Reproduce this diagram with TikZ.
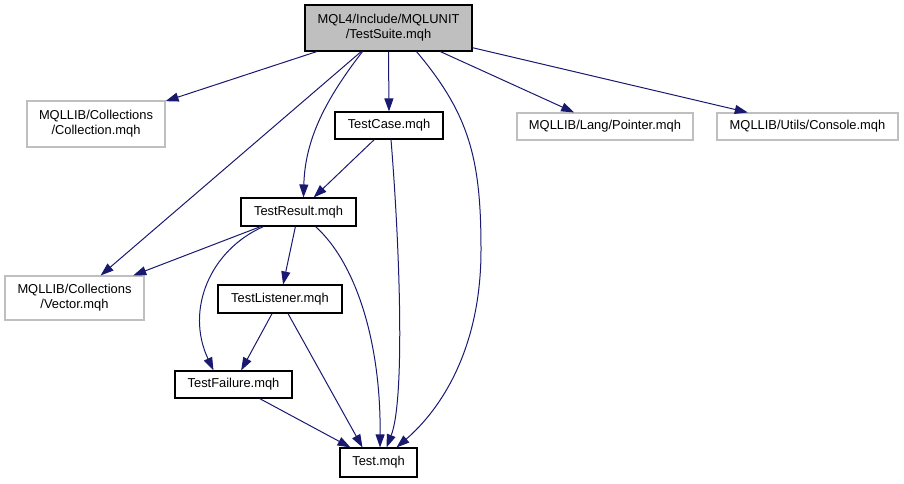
\documentclass[tikz,border=0pt]{standalone}
\usepackage{fontspec}
\setmainfont{Liberation Sans}
\usetikzlibrary{arrows.meta}
\definecolor{edgeblue}{HTML}{191970}
\definecolor{boxgray}{HTML}{BFBFBF}
\tikzset{
  box/.style={draw=black, line width=1.1pt, inner sep=0pt, align=center,
    font=\fontsize{12.9}{15}\selectfont, text=black},
  extbox/.style={box, draw=boxgray},
  rootbox/.style={box, fill=boxgray},
  dep/.style={draw=edgeblue, line width=1pt, -{Triangle[length=13pt,width=9pt]}}
}
\begin{document}
\begin{tikzpicture}[x=1pt,y=-1pt]
\useasboundingbox (0,0) rectangle (904,483);
\node[rootbox, minimum width=167pt, minimum height=46pt] (ts) at (388.5,28) {MQL4/Include/MQLUNIT\\/TestSuite.mqh};
\node[extbox, minimum width=138pt, minimum height=46pt] (coll) at (96,124) {MQLLIB/Collections\\/Collection.mqh};
\node[box, minimum width=108pt, minimum height=27pt] (tc) at (389,125.5) {TestCase.mqh};
\node[extbox, minimum width=176pt, minimum height=27pt] (ptr) at (605,126.5) {MQLLIB/Lang/Pointer.mqh};
\node[extbox, minimum width=181pt, minimum height=27pt] (con) at (807.5,126.5) {MQLLIB/Utils/Console.mqh};
\node[box, minimum width=115pt, minimum height=28pt] (tr) at (298.5,212) {TestResult.mqh};
\node[extbox, minimum width=139pt, minimum height=44pt] (vec) at (74.5,298) {MQLLIB/Collections\\/Vector.mqh};
\node[box, minimum width=124pt, minimum height=28pt] (tl) at (280,299) {TestListener.mqh};
\node[box, minimum width=117pt, minimum height=27pt] (tf) at (233.5,384.5) {TestFailure.mqh};
\node[box, minimum width=77pt, minimum height=29pt] (tst) at (378.5,462.5) {Test.mqh};

% from TestSuite
\draw[dep] (ts) -- (coll);
\draw[dep] (ts) -- (vec);
\draw[dep] ([xshift=-26pt]ts.south) .. controls (325,100) and (305,140) .. ([xshift=5pt]tr.north);
\draw[dep] (ts.south) -- (tc.north);
\draw[dep] ([xshift=28pt]ts.south) .. controls (470,115) and (481,160) .. (481,250) .. controls (481,350) and (440,410) .. ([xshift=18pt]tst.north);
\draw[dep] (ts) -- (ptr);
\draw[dep] (ts) -- (con);
% from TestCase
\draw[dep] (tc) -- (tr);
\draw[dep] ([xshift=2pt]tc.south) .. controls (400,250) and (405,400) .. ([xshift=8pt]tst.north);
% from TestResult
\draw[dep] (tr) -- (vec);
\draw[dep] (tr) -- (tl);
\draw[dep] ([xshift=-35pt]tr.south) .. controls (210,250) and (185,310) .. ([xshift=-20pt]tf.north);
\draw[dep] ([xshift=17pt]tr.south) .. controls (355,262) and (381,340) .. ([xshift=1.5pt]tst.north);
% from TestListener
\draw[dep] (tl) -- (tf);
\draw[dep] ([xshift=8pt]tl.south) -- ([xshift=-16pt]tst.north);
% from TestFailure
\draw[dep] (tf) -- (tst);
\end{tikzpicture}
\end{document}
